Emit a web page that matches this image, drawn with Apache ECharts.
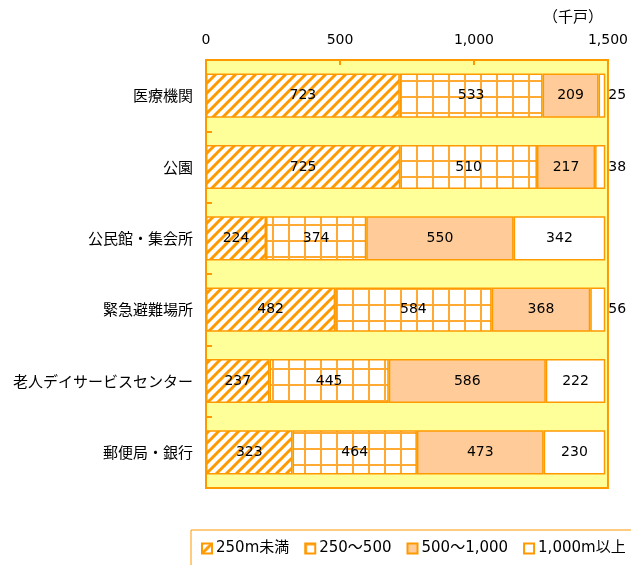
<!DOCTYPE html>
<html>
<head>
<meta charset="utf-8">
<script src="https://cdn.jsdelivr.net/npm/echarts@6/dist/echarts.min.js"></script>
<style>
  html, body { margin: 0; padding: 0; background: #fff; }
  #chart { width: 631px; height: 565px; }
</style>
</head>
<body>
<div id="chart"></div>
<script>
// Facilities by distance (thousand households)
const categories = ['医療機関', '公園', '公民館・集会所', '緊急避難場所', '老人デイサービスセンター', '郵便局・銀行'];
const seriesNames = ['250m未満', '250～500', '500～1,000', '1,000m以上'];
const under250 = [723, 725, 224, 482, 237, 323];
const from250to500 = [533, 510, 374, 584, 445, 464];
const from500to1000 = [209, 217, 550, 368, 586, 473];
const over1000 = [25, 38, 342, 56, 222, 230];
const xTicks = [0, 500, 1000, 1500];

const ORANGE = '#FF9900';
const FONT = '"DejaVu Sans", "Noto Sans CJK JP", sans-serif';
const CJK = '"Noto Sans CJK JP", sans-serif';

// Diagonal hatch pattern
function makeHatch() {
    const c = document.createElement('canvas');
    c.width = 10; c.height = 10;
    const ctx = c.getContext('2d');
    ctx.fillStyle = '#fff';
    ctx.fillRect(0, 0, 10, 10);
    ctx.strokeStyle = ORANGE;
    ctx.lineWidth = 3;
    ctx.beginPath();
    ctx.moveTo(-2, 12); ctx.lineTo(12, -2);
    ctx.moveTo(-7, 7); ctx.lineTo(7, -7);
    ctx.moveTo(3, 17); ctx.lineTo(17, 3);
    ctx.stroke();
    return c;
}

// Grid pattern
function makeGrid() {
    const c = document.createElement('canvas');
    c.width = 16; c.height = 16;
    const ctx = c.getContext('2d');
    ctx.fillStyle = '#fff';
    ctx.fillRect(0, 0, 16, 16);
    ctx.fillStyle = '#FFAA33';
    ctx.fillRect(0, 0, 2, 16);
    ctx.fillRect(0, 0, 16, 2);
    return c;
}

const fills = [
    { image: makeHatch(), repeat: 'repeat' },
    { image: makeGrid(), repeat: 'repeat' },
    '#FFCC99',
    '#FFFFFF'
];
const values = [under250, from250to500, from500to1000, over1000];

const chart = echarts.init(document.getElementById('chart'));

const series = values.map((vals, i) => ({
    name: seriesNames[i],
    type: 'bar',
    stack: 'total',
    barCategoryGap: '38%',
    itemStyle: { color: fills[i], borderColor: ORANGE, borderWidth: 1.5 },
    label: {
        show: true,
        position: 'inside',
        color: '#000',
        fontSize: 14,
        fontFamily: FONT
    },
    data: vals.map(v => (i === 3 && v < 100)
        ? { value: v, label: { position: 'right', distance: 3 } }
        : v)
}));

const option = {
    animation: false,
    textStyle: { fontFamily: FONT },
    grid: {
        left: 206, right: 23, top: 60, bottom: 77,
        show: true,
        backgroundColor: '#FFFF99',
        borderColor: ORANGE,
        borderWidth: 2
    },
    legend: {
        left: 201,
        top: 541,
        width: 480,
        padding: 0,
        itemWidth: 10,
        itemHeight: 10,
        itemGap: 15,
        textStyle: { fontSize: 15, color: '#000', fontFamily: FONT, padding: [0, 0, 0, -1] },
        data: seriesNames.map(n => ({ name: n, icon: 'rect' }))
    },
    graphic: [
        {
            type: 'rect',
            shape: { x: 191, y: 530, width: 460, height: 45 },
            style: { fill: 'none', stroke: ORANGE, lineWidth: 1 },
            silent: true
        },
        {
            type: 'text',
            left: 543,
            top: 9,
            style: { text: '（千戸）', fontSize: 15, fill: '#000', fontFamily: CJK }
        }
    ],
    xAxis: {
        type: 'value',
        position: 'top',
        min: xTicks[0],
        max: xTicks[xTicks.length - 1],
        interval: 500,
        axisLine: { show: false },
        axisTick: { show: true, inside: true, length: 5, lineStyle: { color: ORANGE, width: 2 } },
        splitLine: { show: false },
        axisLabel: {
            color: '#000',
            fontSize: 14,
            margin: 13,
            fontFamily: FONT,
            formatter: v => v.toLocaleString('en-US')
        }
    },
    yAxis: {
        type: 'category',
        inverse: true,
        data: categories,
        axisLine: { show: false },
        axisTick: { show: true, inside: true, length: 6, lineStyle: { color: ORANGE, width: 2 } },
        axisLabel: { color: '#000', fontSize: 15, margin: 13, fontFamily: CJK }
    },
    series: series
};

chart.setOption(option);
</script>
</body>
</html>
